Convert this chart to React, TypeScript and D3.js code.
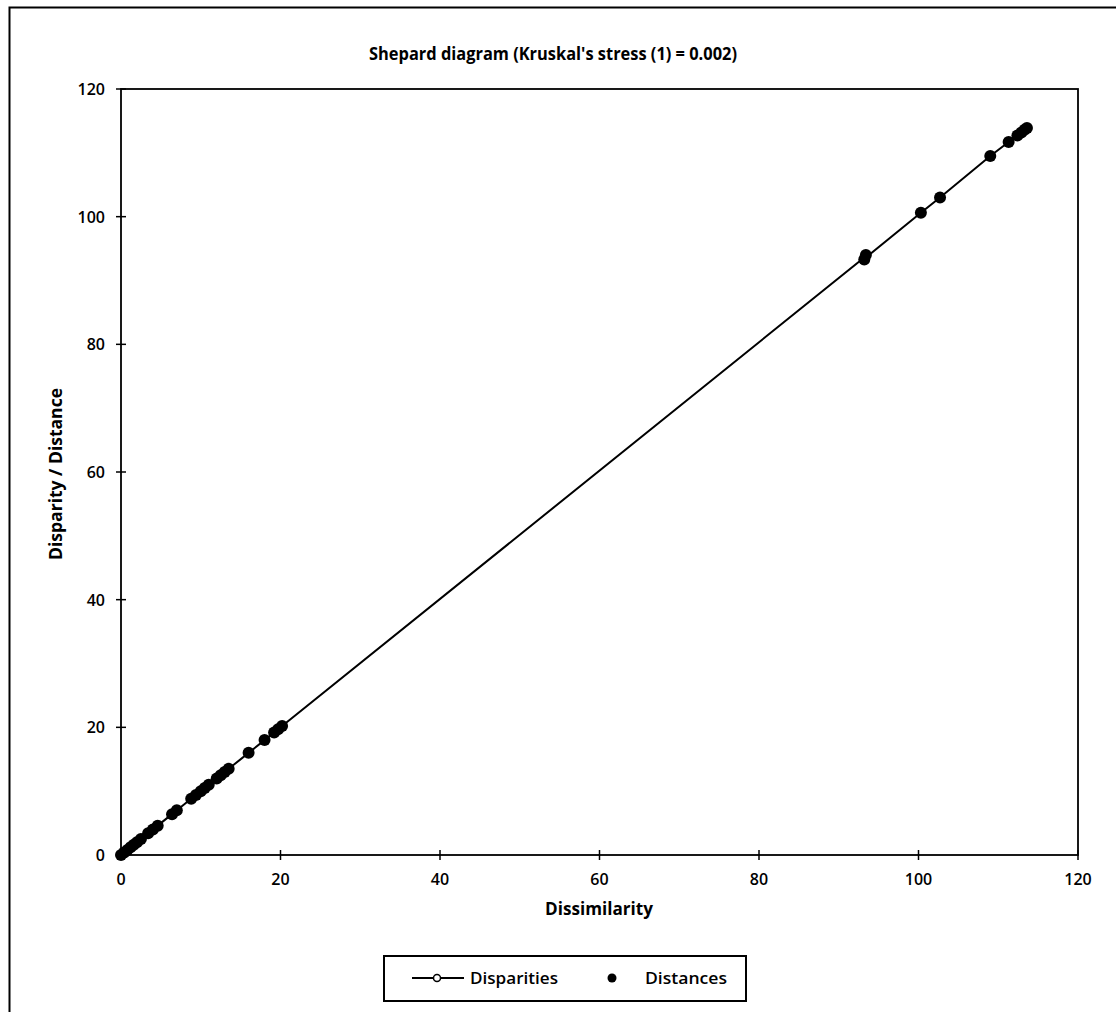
import React from "react";
import * as d3 from "d3";

const dissimilarity = [
  0, 0.4, 0.8, 1.2, 1.6, 2, 2.5, 3.4, 4, 4.6, 6.4, 7, 8.8, 9.4, 10, 10.5, 11,
  12, 12.5, 13, 13.5, 16, 18, 19.2, 19.7, 20.2, 93.2, 93.4, 100.3, 102.7,
  109, 111.3, 112.4, 112.9, 113.3, 113.6,
];
const disparities = [
  0, 0.4, 0.8, 1.2, 1.6, 2, 2.5, 3.4, 4, 4.6, 6.4, 7, 8.8, 9.4, 10, 10.5, 11,
  12, 12.5, 13, 13.5, 16, 18, 19.2, 19.7, 20.2, 93.6, 93.6, 100.6, 103,
  109.5, 111.7, 112.7, 113.2, 113.6, 113.9,
];
const distances = [
  0, 0.4, 0.8, 1.2, 1.6, 2, 2.5, 3.4, 4, 4.6, 6.4, 7, 8.8, 9.4, 10, 10.5, 11,
  12, 12.5, 13, 13.5, 16, 18, 19.2, 19.7, 20.2, 93.3, 94, 100.6, 103, 109.5,
  111.7, 112.7, 113.2, 113.6, 113.9,
];
const xTicks = [0, 20, 40, 60, 80, 100, 120];
const yTicks = [0, 20, 40, 60, 80, 100, 120];

const font = "'Open Sans', 'Noto Sans', sans-serif";

export default function App() {
  const x = d3.scaleLinear().domain([0, 120]).range([121, 1078]);
  const y = d3.scaleLinear().domain([0, 120]).range([855, 89]);

  const line = d3
    .line<number>()
    .x((_, i) => x(dissimilarity[i]))
    .y((d) => y(d));

  return (
    <svg
      width={1116}
      height={1012}
      style={{ position: "absolute", left: 0, top: 0, background: "#fff" }}
      fontFamily={font}
    >
      <rect x={0} y={0} width={1116} height={1012} fill="#fff" />
      {/* outer frame */}
      <path d="M9.5,1012 V7.5 H1116" fill="none" stroke="#000" strokeWidth={2} />

      <text
        x={553}
        y={60}
        textAnchor="middle"
        fontSize={18}
        fontWeight="bold"
        textLength={368}
        lengthAdjust="spacingAndGlyphs"
      >
        Shepard diagram (Kruskal's stress (1) = 0.002)
      </text>

      {/* plot frame */}
      <rect
        x={x(0)}
        y={y(120)}
        width={x(120) - x(0)}
        height={y(0) - y(120)}
        fill="none"
        stroke="#000"
        strokeWidth={1.8}
      />

      {xTicks.map((t) => (
        <g key={"x" + t}>
          <line x1={x(t)} x2={x(t)} y1={y(0) - 5} y2={y(0) + 5} stroke="#000" strokeWidth={1.5} />
          <text x={x(t)} y={y(0) + 30} textAnchor="middle" fontSize={16} fontWeight="600">
            {t}
          </text>
        </g>
      ))}
      {yTicks.map((t) => (
        <g key={"y" + t}>
          <line x1={x(0) - 5} x2={x(0) + 5} y1={y(t)} y2={y(t)} stroke="#000" strokeWidth={1.5} />
          <text x={x(0) - 16} y={y(t) + 6} textAnchor="end" fontSize={16} fontWeight="600">
            {t}
          </text>
        </g>
      ))}

      <text
        x={599}
        y={915}
        textAnchor="middle"
        fontSize={17}
        fontWeight="bold"
        textLength={108}
        lengthAdjust="spacingAndGlyphs"
      >
        Dissimilarity
      </text>
      <text
        transform={`translate(62,474) rotate(-90)`}
        textAnchor="middle"
        fontSize={17}
        fontWeight="bold"
        textLength={172}
        lengthAdjust="spacingAndGlyphs"
      >
        Disparity / Distance
      </text>

      {/* disparities */}
      <path d={line(disparities) ?? ""} fill="none" stroke="#000" strokeWidth={2} />
      {disparities.map((d, i) => (
        <circle key={"p" + i} cx={x(dissimilarity[i])} cy={y(d)} r={3.5} fill="#fff" stroke="#000" strokeWidth={1.5} />
      ))}
      {/* distances */}
      {distances.map((d, i) => (
        <circle key={"d" + i} cx={x(dissimilarity[i])} cy={y(d)} r={6} fill="#000" />
      ))}

      {/* legend */}
      <rect x={384} y={956} width={362} height={45} fill="#fff" stroke="#000" strokeWidth={2} />
      <line x1={412} x2={464} y1={978} y2={978} stroke="#000" strokeWidth={2} />
      <circle cx={437} cy={978} r={3.5} fill="#fff" stroke="#000" strokeWidth={1.5} />
      <text
        x={470}
        y={984}
        fontSize={16}
        fontWeight="600"
        textLength={88}
        lengthAdjust="spacingAndGlyphs"
      >
        Disparities
      </text>
      <circle cx={612} cy={978} r={4.5} fill="#000" />
      <text
        x={645}
        y={984}
        fontSize={16}
        fontWeight="600"
        textLength={82}
        lengthAdjust="spacingAndGlyphs"
      >
        Distances
      </text>
    </svg>
  );
}
